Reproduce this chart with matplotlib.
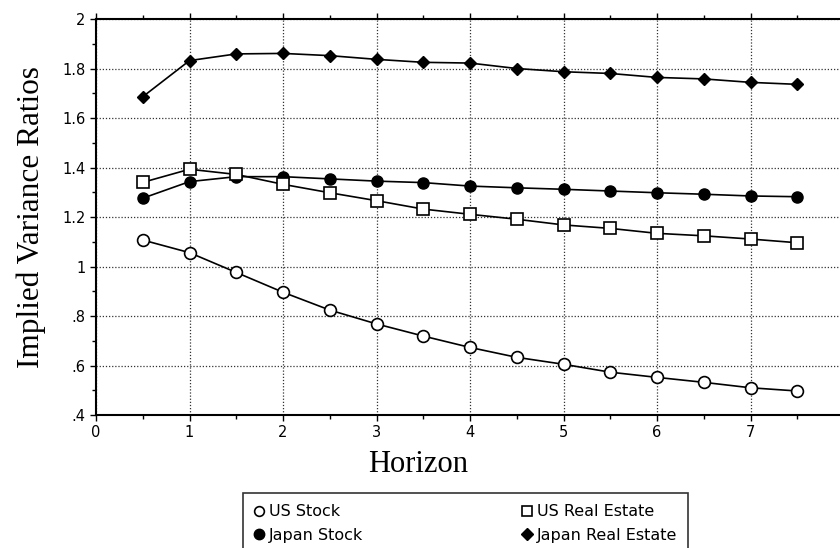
import matplotlib.pyplot as plt
from matplotlib.lines import Line2D
from matplotlib.ticker import MultipleLocator, FixedLocator

horizon = [0.5, 1, 1.5, 2, 2.5, 3, 3.5, 4, 4.5, 5, 5.5, 6, 6.5, 7, 7.5]
us_stock = [1.107, 1.056, 0.976, 0.896, 0.824, 0.768, 0.719, 0.673, 0.633,
            0.605, 0.573, 0.552, 0.532, 0.510, 0.497]
us_real_estate = [1.340, 1.393, 1.372, 1.332, 1.298, 1.266, 1.232, 1.211,
                  1.191, 1.168, 1.154, 1.134, 1.124, 1.111, 1.096]
japan_stock = [1.276, 1.343, 1.363, 1.363, 1.354, 1.345, 1.339, 1.325,
               1.318, 1.312, 1.305, 1.298, 1.292, 1.285, 1.282]
japan_real_estate = [1.686, 1.832, 1.859, 1.861, 1.852, 1.837, 1.825, 1.822,
                     1.800, 1.787, 1.780, 1.764, 1.758, 1.744, 1.736]

y_ticks = [0.4, 0.6, 0.8, 1.0, 1.2, 1.4, 1.6, 1.8, 2.0]
y_labels = ['.4', '.6', '.8', '1', '1.2', '1.4', '1.6', '1.8', '2']

fig = plt.figure(figsize=(8.4, 5.48), dpi=100)
ax = fig.add_axes([0.1143, 0.2427, 0.8905, 0.7226])

lw = 1.2
ax.plot(horizon, japan_real_estate, '-', color='black', lw=lw,
        marker='D', ms=6.5, mfc='black', mec='black', zorder=3)
ax.plot(horizon, japan_stock, '-', color='black', lw=lw,
        marker='o', ms=8, mfc='black', mec='black', zorder=3)
ax.plot(horizon, us_real_estate, '-', color='black', lw=lw,
        marker='s', ms=8, mfc='white', mec='black', mew=1.2, zorder=4)
ax.plot(horizon, us_stock, '-', color='black', lw=lw,
        marker='o', ms=8.5, mfc='white', mec='black', mew=1.2, zorder=4)

ax.set_xlim(0, 8)
ax.set_ylim(0.4, 2.0)
ax.xaxis.set_major_locator(MultipleLocator(1))
ax.xaxis.set_minor_locator(MultipleLocator(0.5))
ax.yaxis.set_major_locator(FixedLocator(y_ticks))
ax.yaxis.set_minor_locator(MultipleLocator(0.1))
ax.set_yticklabels(y_labels)

ax.grid(True, which='major', linestyle=(0, (1, 1.5)), color='#333333', lw=0.9)
ax.tick_params(axis='both', which='both', labelsize=10.5, color='black',
               direction='out')
ax.tick_params(axis='x', which='both', top=True)
ax.tick_params(which='major', length=4, width=1)
ax.tick_params(which='minor', length=3, width=1)
for s in ax.spines.values():
    s.set_linewidth(1.5)

fig.text(418 / 840, 1 - 465 / 548, 'Horizon', family='Liberation Serif',
         fontsize=22, ha='center', va='center')
ax.set_ylabel('Implied Variance Ratios', family='Liberation Serif',
              fontsize=22.5, labelpad=12)

handles = [
    Line2D([], [], ls='none', marker='o', ms=7, mfc='white', mec='black', mew=1.2),
    Line2D([], [], ls='none', marker='o', ms=7.5, mfc='black', mec='black'),
    Line2D([], [], ls='none', marker='s', ms=7, mfc='white', mec='black', mew=1.2),
    Line2D([], [], ls='none', marker='D', ms=6, mfc='black', mec='black'),
]
labels = ['US Stock', 'Japan Stock', 'US Real Estate', 'Japan Real Estate']
leg = fig.legend(handles, labels, ncol=2, loc='upper left',
                 bbox_to_anchor=(243 / 840, 1 - 493 / 548),
                 fontsize=11.5, frameon=True, fancybox=False,
                 edgecolor='black', handlelength=0.6, handletextpad=0.3,
                 columnspacing=10.0, labelspacing=0.55, borderpad=0.7,
                 borderaxespad=0)
leg.get_frame().set_linewidth(1.2)

fig.savefig('out.png', dpi=100)
